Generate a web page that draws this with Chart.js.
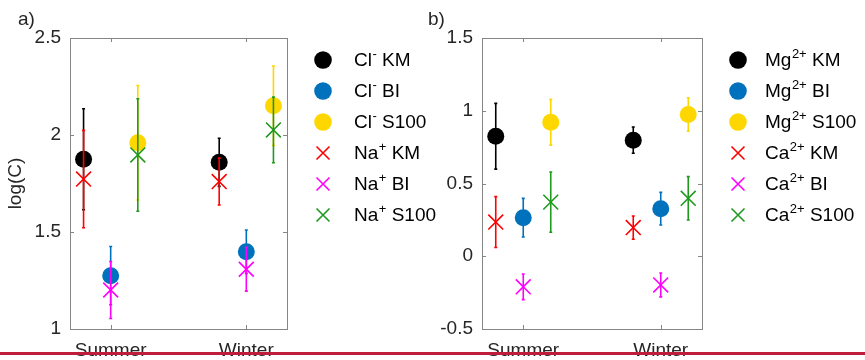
<!DOCTYPE html>
<html lang="en">
<head>
  <meta charset="UTF-8">
  <title>Ion concentrations by season</title>
  <script src="https://cdn.jsdelivr.net/npm/chart.js"></script>
  <style>
    * {
      box-sizing: border-box;
      margin: 0;
      padding: 0;
    }

    body {
      background-color: white;
      width: 865px;
      height: 360px;
      position: relative;
      overflow: hidden;
      font-family: 'Liberation Sans', Arial, sans-serif;
    }

    #chartA {
      position: absolute;
      left: 0;
      top: 0;
    }

    #chartB {
      position: absolute;
      left: 420px;
      top: 0;
    }

    .rule {
      position: absolute;
      left: 0;
      top: 352px;
      width: 865px;
      height: 3px;
      background-color: #be1e3c;
    }
  </style>
</head>
<body>

<canvas id="chartA" width="445" height="360"></canvas>
<canvas id="chartB" width="445" height="360"></canvas>
<div class="rule"></div>

<script>
  // seasons on the x axis
  const seasons = ['Summer', 'Winter'];
  const sites = ['KM', 'BI', 'S100'];

  // panel a: log concentration, mean and error per season
  const clKM = [1.875, 1.859];
  const clKMErr = [0.26, 0.124];
  const clBI = [1.275, 1.398];
  const clBIErr = [0.15, 0.112];
  const clS100 = [1.96, 2.151];
  const clS100Err = [0.295, 0.205];
  const naKM = [1.773, 1.76];
  const naKMErr = [0.251, 0.121];
  const naBI = [1.201, 1.308];
  const naBIErr = [0.147, 0.113];
  const naS100 = [1.897, 2.026];
  const naS100Err = [0.29, 0.169];

  // panel b
  const mgKM = [0.825, 0.798];
  const mgKMErr = [0.226, 0.09];
  const mgBI = [0.265, 0.327];
  const mgBIErr = [0.133, 0.112];
  const mgS100 = [0.921, 0.974];
  const mgS100Err = [0.157, 0.115];
  const caKM = [0.235, 0.197];
  const caKMErr = [0.175, 0.08];
  const caBI = [-0.21, -0.197];
  const caBIErr = [0.088, 0.082];
  const caS100 = [0.372, 0.398];
  const caS100Err = [0.207, 0.149];

  // tick labels
  const yTicksA = [1, 1.5, 2, 2.5];
  const yTicksB = [-0.5, 0, 0.5, 1, 1.5];

  const FONT = "'Liberation Sans', Arial, sans-serif";
  const siteOffset = { KM: -0.2, BI: 0, S100: 0.2 };
  const siteColor = {
    circle: { KM: '#000000', BI: '#0072bd', S100: '#ffd700' },
    cross: { KM: '#ff0000', BI: '#ff00ff', S100: '#1f9a1f' }
  };
  const supChars = { '-': '\u207B', '+': '\u207A', '2+': '\u00B2\u207A' };

  function makeDataset(ion, charge, site, values, errors, style) {
    const color = siteColor[style][site];
    const isCircle = style === 'circle';
    return {
      label: ion + supChars[charge] + ' ' + site,
      ion: ion,
      charge: charge,
      site: site,
      errors: errors,
      data: values.map((v, i) => ({ x: i + 1 + siteOffset[site], y: v })),
      showLine: false,
      pointStyle: isCircle ? 'circle' : 'crossRot',
      pointRadius: isCircle ? 8.5 : 10.5,
      pointHoverRadius: isCircle ? 8.5 : 10.5,
      backgroundColor: color,
      borderColor: color,
      borderWidth: isCircle ? 0 : 1.6,
      order: isCircle ? 1 : 0
    };
  }

  // error bars drawn just before each dataset's markers
  const errorBars = {
    id: 'errorBars',
    beforeDatasetDraw(chart, args) {
      const ds = chart.data.datasets[args.index];
      const yScale = chart.scales.y;
      const ctx = chart.ctx;
      ctx.save();
      ctx.strokeStyle = ds.borderColor;
      ctx.lineWidth = 1.6;
      args.meta.data.forEach((pt, i) => {
        const v = ds.data[i].y;
        const e = ds.errors[i];
        const y1 = yScale.getPixelForValue(v + e);
        const y2 = yScale.getPixelForValue(v - e);
        ctx.beginPath();
        ctx.moveTo(pt.x, y1);
        ctx.lineTo(pt.x, y2);
        ctx.stroke();
        ctx.beginPath();
        ctx.moveTo(pt.x - 1.5, y1);
        ctx.lineTo(pt.x + 1.5, y1);
        ctx.moveTo(pt.x - 1.5, y2);
        ctx.lineTo(pt.x + 1.5, y2);
        ctx.stroke();
      });
      ctx.restore();
    }
  };

  // axes box with inward ticks, panel letter and legend
  const frame = {
    id: 'frame',
    afterDraw(chart, args, opts) {
      const ctx = chart.ctx;
      const area = chart.chartArea;
      const xs = chart.scales.x;
      const ys = chart.scales.y;
      ctx.save();
      ctx.strokeStyle = '#858585';
      ctx.lineWidth = 1;
      ctx.strokeRect(Math.round(area.left) + 0.5, Math.round(area.top) + 0.5,
        Math.round(area.right - area.left), Math.round(area.bottom - area.top));
      ctx.beginPath();
      xs.ticks.forEach(t => {
        const x = Math.round(xs.getPixelForValue(t.value)) + 0.5;
        ctx.moveTo(x, area.bottom);
        ctx.lineTo(x, area.bottom - 4);
        ctx.moveTo(x, area.top);
        ctx.lineTo(x, area.top + 4);
      });
      ys.ticks.forEach(t => {
        const y = Math.round(ys.getPixelForValue(t.value)) + 0.5;
        ctx.moveTo(area.left, y);
        ctx.lineTo(area.left + 4, y);
        ctx.moveTo(area.right, y);
        ctx.lineTo(area.right - 4, y);
      });
      ctx.stroke();

      // panel letter
      ctx.fillStyle = '#262626';
      ctx.font = '19px ' + FONT;
      ctx.textBaseline = 'alphabetic';
      ctx.textAlign = 'left';
      ctx.fillText(opts.letter, opts.letterX, 25);

      // legend
      const mx = area.right + 36;
      const tx = area.right + opts.textGap;
      chart.data.datasets.forEach((ds, i) => {
        const y = area.top + 22 + i * 31;
        if (ds.pointStyle === 'circle') {
          ctx.fillStyle = ds.backgroundColor;
          ctx.beginPath();
          ctx.arc(mx, y, 8.8, 0, Math.PI * 2);
          ctx.fill();
        } else {
          ctx.strokeStyle = ds.borderColor;
          ctx.lineWidth = 1.6;
          ctx.beginPath();
          ctx.moveTo(mx - 6.5, y - 6.5);
          ctx.lineTo(mx + 6.5, y + 6.5);
          ctx.moveTo(mx - 6.5, y + 6.5);
          ctx.lineTo(mx + 6.5, y - 6.5);
          ctx.stroke();
        }
        ctx.fillStyle = '#000000';
        ctx.textBaseline = 'middle';
        ctx.font = '19px ' + FONT;
        let x = tx;
        ctx.fillText(ds.ion, x, y + 1);
        x += ctx.measureText(ds.ion).width;
        ctx.font = '13px ' + FONT;
        const sup = ds.charge;
        ctx.fillText(sup, x + 0.5, y - 6);
        x += ctx.measureText(sup).width + 0.5;
        ctx.font = '19px ' + FONT;
        ctx.fillText(' ' + ds.site, x, y + 1);
      });
      ctx.restore();
    }
  };

  function makeChart(canvasId, datasets, yMin, yMax, yTicks, yWidth, padRight, yTitle, letter, letterX, textGap) {
    const ctx = document.getElementById(canvasId).getContext('2d');
    return new Chart(ctx, {
      type: 'scatter',
      data: { datasets: datasets },
      options: {
        responsive: false,
        animation: false,
        devicePixelRatio: 1,
        layout: { padding: { left: 0, right: padRight, top: 38, bottom: 0 } },
        plugins: {
          legend: { display: false },
          tooltip: { enabled: false },
          frame: { letter: letter, letterX: letterX, textGap: textGap }
        },
        scales: {
          x: {
            type: 'linear',
            min: 0.7,
            max: 2.3,
            grid: { display: false, drawTicks: false },
            border: { display: false },
            afterBuildTicks: (scale) => {
              scale.ticks = seasons.map((s, i) => ({ value: i + 1 }));
            },
            afterFit: (scale) => { scale.height = 31; },
            ticks: {
              autoSkip: false,
              maxRotation: 0,
              padding: 10,
              color: '#262626',
              font: { family: FONT, size: 19 },
              callback: (v, i) => seasons[i]
            }
          },
          y: {
            min: yMin,
            max: yMax,
            grid: { display: false, drawTicks: false },
            border: { display: false },
            afterBuildTicks: (scale) => {
              scale.ticks = yTicks.map(v => ({ value: v }));
            },
            afterFit: (scale) => { scale.width = yWidth; },
            title: {
              display: yTitle !== '',
              text: yTitle,
              color: '#262626',
              font: { family: FONT, size: 19 },
              padding: { top: 4, bottom: 0 }
            },
            ticks: {
              padding: 9,
              color: '#262626',
              font: { family: FONT, size: 19 },
              callback: (v) => String(v)
            }
          }
        }
      },
      plugins: [errorBars, frame]
    });
  }

  const dataA = [
    makeDataset('Cl', '-', 'KM', clKM, clKMErr, 'circle'),
    makeDataset('Cl', '-', 'BI', clBI, clBIErr, 'circle'),
    makeDataset('Cl', '-', 'S100', clS100, clS100Err, 'circle'),
    makeDataset('Na', '+', 'KM', naKM, naKMErr, 'cross'),
    makeDataset('Na', '+', 'BI', naBI, naBIErr, 'cross'),
    makeDataset('Na', '+', 'S100', naS100, naS100Err, 'cross')
  ];

  const dataB = [
    makeDataset('Mg', '2+', 'KM', mgKM, mgKMErr, 'circle'),
    makeDataset('Mg', '2+', 'BI', mgBI, mgBIErr, 'circle'),
    makeDataset('Mg', '2+', 'S100', mgS100, mgS100Err, 'circle'),
    makeDataset('Ca', '2+', 'KM', caKM, caKMErr, 'cross'),
    makeDataset('Ca', '2+', 'BI', caBI, caBIErr, 'cross'),
    makeDataset('Ca', '2+', 'S100', caS100, caS100Err, 'cross')
  ];

  makeChart('chartA', dataA, 1, 2.5, yTicksA, 70, 158, 'log(C)', 'a)', 18, 67);
  makeChart('chartB', dataB, -0.5, 1.5, yTicksB, 62, 163, '', 'b)', 8, 63);
</script>

</body>
</html>
